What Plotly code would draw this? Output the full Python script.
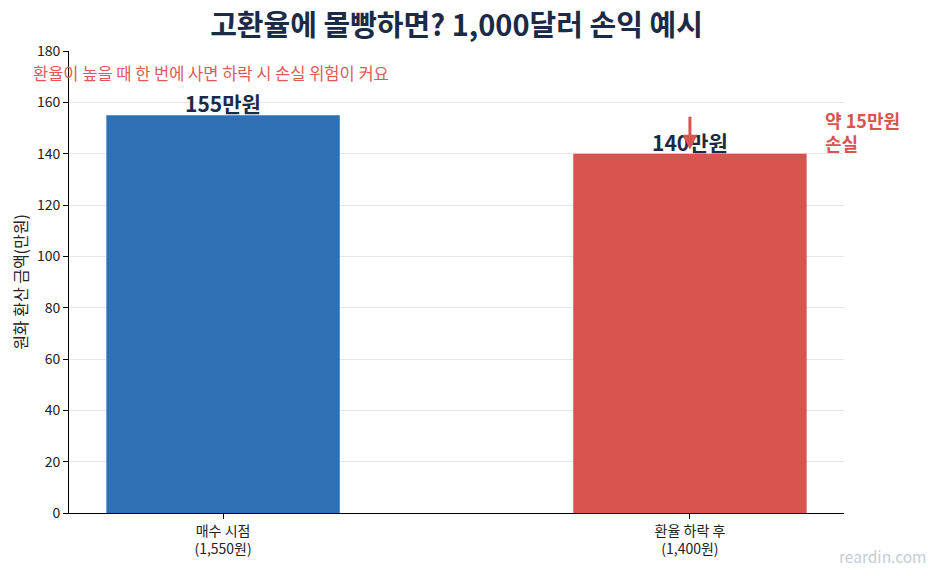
import plotly.graph_objects as go

categories = ["매수 시점<br>(1,550원)", "환율 하락 후<br>(1,400원)"]
values = [155, 140]
bar_labels = ["155만원", "140만원"]
colors = ["#2E70B4", "#D9544F"]
y_ticks = [0, 20, 40, 60, 80, 100, 120, 140, 160, 180]

FONT = "Noto Sans CJK KR"
NAVY = "#1B2A47"
RED = "#D9544F"

fig = go.Figure()
fig.add_trace(go.Bar(
    x=[0, 1], y=values, width=0.5, marker=dict(color=colors, line=dict(width=0)),
    hoverinfo="skip",
))

for i, (v, lab) in enumerate(zip(values, bar_labels)):
    fig.add_annotation(x=i, y=v, xref="x", yref="y", text=f"<b>{lab}</b>",
                       showarrow=False, yanchor="bottom", yshift=-5,
                       font=dict(family=FONT, size=21, color=NAVY))

# arrow showing the drop
fig.add_annotation(x=1, y=values[1] + 1.5, ax=1, ay=values[0], xref="x", yref="y",
                   axref="x", ayref="y", showarrow=True, arrowhead=2, arrowsize=1,
                   arrowwidth=3, arrowcolor=RED, text="")
fig.add_annotation(x=1.284, y=148.8, xref="x", yref="y",
                   text="<b>약 15만원<br>손실</b>", showarrow=False, xanchor="left",
                   align="left", font=dict(family=FONT, size=18, color=RED))
fig.add_annotation(x=-0.049, y=0.952, xref="paper", yref="paper",
                   text="환율이 높을 때 한 번에 사면 하락 시 손실 위험이 커요",
                   showarrow=False, xanchor="left", yanchor="middle",
                   font=dict(family=FONT, size=16.5, color="#E05A55"))
fig.add_annotation(x=1, y=0, xref="paper", yref="paper", xshift=84, yshift=-56,
                   text="reardin.com", showarrow=False, xanchor="right", yanchor="bottom",
                   font=dict(family=FONT, size=15.5, color="#C5CCD6"))

fig.update_layout(
    width=937, height=576,
    margin=dict(l=61, r=101, t=43, b=71, autoexpand=False),
    paper_bgcolor="white", plot_bgcolor="white",
    title=dict(text="<b>고환율에 몰빵하면? 1,000달러 손익 예시</b>", x=0.5, xanchor="center",
               xref="paper", y=0.969, yanchor="middle",
               font=dict(family=FONT, size=29, color=NAVY)),
    font=dict(family=FONT, size=14, color="#222"),
    showlegend=False,
    xaxis=dict(range=[-0.33, 1.33], tickvals=[0, 1], ticktext=categories,
               showline=True, linecolor="black", linewidth=1, ticks="outside",
               ticklen=5, tickcolor="black", showgrid=False, zeroline=False,
               automargin=False,
               tickfont=dict(family=FONT, size=14, color="#222")),
    yaxis=dict(range=[0, 180], tickvals=y_ticks, showline=True, linecolor="black",
               linewidth=1, ticks="outside", ticklen=5, tickcolor="black",
               gridcolor="#E6E6E6", gridwidth=1, zeroline=False, automargin=False,
               title=dict(text="원화 환산 금액(만원)", font=dict(family=FONT, size=16, color="#222"),
                          standoff=6),
               tickfont=dict(family=FONT, size=14, color="#222")),
)

fig.write_html("out.html")
